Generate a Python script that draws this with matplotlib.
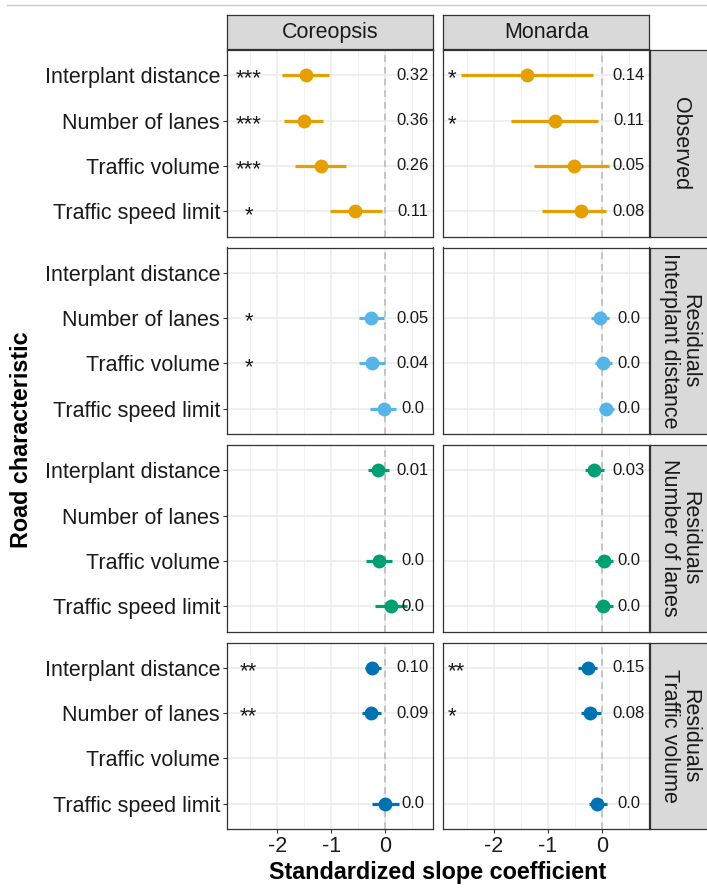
import numpy as np
import matplotlib
matplotlib.use("Agg")
import matplotlib.pyplot as plt
from matplotlib.lines import Line2D

plt.rcParams['font.family'] = ['Liberation Sans', 'DejaVu Sans']

nan = np.nan

# road characteristics, top to bottom
roads = ["Interplant distance", "Number of lanes", "Traffic volume", "Traffic speed limit"]
species = ["Coreopsis", "Monarda"]
facets = ["Observed", "Residuals\nInterplant distance", "Residuals\nNumber of lanes",
          "Residuals\nTraffic volume"]
colors = ["#E69F00", "#56B4E9", "#009E73", "#0072B2"]

# Coreopsis: one list per facet row
cor_est = [[-1.47, -1.51, -1.20, -0.56],
           [nan, -0.26, -0.25, -0.03],
           [-0.14, nan, -0.11, 0.11],
           [-0.24, -0.27, nan, 0.00]]
cor_lo = [[-1.91, -1.88, -1.67, -1.02],
          [nan, -0.48, -0.49, -0.28],
          [-0.33, nan, -0.35, -0.19],
          [-0.37, -0.43, nan, -0.24]]
cor_hi = [[-1.04, -1.15, -0.72, -0.07],
          [nan, -0.03, -0.01, 0.20],
          [0.06, nan, 0.13, 0.40],
          [-0.09, -0.09, nan, 0.25]]
cor_r2 = [["0.32", "0.36", "0.26", "0.11"],
          ["", "0.05", "0.04", "0.0"],
          ["0.01", "", "0.0", "0.0"],
          ["0.10", "0.09", "", "0.0"]]
cor_sig = [["***", "***", "***", "*"],
           ["", "*", "*", ""],
           ["", "", "", ""],
           ["**", "**", "", ""]]

# Monarda
mon_est = [[-1.39, -0.87, -0.51, -0.38],
           [nan, -0.04, 0.03, 0.07],
           [-0.15, nan, 0.04, 0.03],
           [-0.25, -0.21, nan, -0.09]]
mon_lo = [[-2.61, -1.68, -1.25, -1.10],
          [nan, -0.20, -0.12, -0.05],
          [-0.30, nan, -0.13, -0.13],
          [-0.43, -0.38, nan, -0.24]]
mon_hi = [[-0.17, -0.06, 0.13, 0.07],
          [nan, 0.13, 0.19, 0.22],
          [0.04, nan, 0.20, 0.20],
          [-0.09, -0.02, nan, 0.10]]
mon_r2 = [["0.14", "0.11", "0.05", "0.08"],
          ["", "0.0", "0.0", "0.0"],
          ["0.03", "", "0.0", "0.0"],
          ["0.15", "0.08", "", "0.0"]]
mon_sig = [["*", "*", "", ""],
           ["", "", "", ""],
           ["", "", "", ""],
           ["**", "*", "", ""]]

data = [(cor_est, cor_lo, cor_hi, cor_r2, cor_sig),
        (mon_est, mon_lo, mon_hi, mon_r2, mon_sig)]

W, H = 707, 893
fig = plt.figure(figsize=(W / 100, H / 100), dpi=100)


def px_axes(x0, y0, w, h):
    return fig.add_axes([x0 / W, 1 - (y0 + h) / H, w / W, h / H])


def strip(ax):
    ax.set_facecolor("#D9D9D9")
    ax.set_xticks([])
    ax.set_yticks([])
    for s in ax.spines.values():
        s.set_color("#333333")
        s.set_linewidth(0.9)


txt = "#1A1A1A"
col_left = [227, 443.3]
col_w = 206
row_top = [50 + i * 197.5 for i in range(4)]
row_h = 186.5
ypos = np.arange(len(roads))

for r in range(4):
    for c in range(2):
        est, lo, hi, r2, sig = data[c]
        ax = px_axes(col_left[c], row_top[r], col_w, row_h)
        ax.set_xlim(-2.93, 0.88)
        ax.set_ylim(3.55, -0.55)
        ax.set_xticks([-2, -1, 0])
        ax.set_xticks([-2.5, -1.5, -0.5, 0.5], minor=True)
        ax.set_yticks(ypos)
        ax.grid(True, which="major", color="#EBEBEB", lw=1.1)
        ax.grid(True, which="minor", axis="x", color="#F2F2F2", lw=0.7)
        ax.tick_params(which="minor", length=0)
        ax.set_axisbelow(True)
        ax.axvline(0, color="#BDBDBD", lw=1.2, ls=(0, (4, 3)), zorder=1)
        for s in ax.spines.values():
            s.set_color("#333333")
            s.set_linewidth(0.9)
        ax.tick_params(which="major", color="#333333", length=3, width=0.8,
                       labelsize=15.5, labelcolor=txt, pad=2)
        if c == 0:
            ax.set_yticklabels(roads)
        else:
            ax.tick_params(axis="y", length=0, labelleft=False)
        if r == 3:
            ax.set_xticklabels(["-2", "-1", "0"])
        else:
            ax.tick_params(axis="x", length=0, labelbottom=False)

        e = np.array(est[r])
        ax.hlines(ypos, lo[r], hi[r], color=colors[r], lw=2.3, zorder=3)
        ax.plot(e, ypos, "o", color=colors[r], ms=10, mec="none", zorder=4)
        for i in range(len(roads)):
            if r2[r][i]:
                ax.text(0.5, ypos[i], r2[r][i], ha="center", va="center",
                        fontsize=12, color=txt, zorder=5)
            if sig[r][i]:
                if c == 0:
                    ax.text(-2.53, ypos[i] + 0.09, sig[r][i], ha="center",
                            va="center", fontsize=16, color=txt)
                else:
                    ax.text(-2.85, ypos[i] + 0.09, sig[r][i], ha="left",
                            va="center", fontsize=16, color=txt)

        # top strips
        if r == 0:
            sa = px_axes(col_left[c], 15, col_w, 34.3)
            strip(sa)
            sa.text(0.5, 0.5, species[c], transform=sa.transAxes, ha="center",
                    va="center", fontsize=15.5, color=txt)

    # right strips
    sa = px_axes(650, row_top[r], 60, row_h)
    strip(sa)
    sa.text(0.5, 0.5, facets[r], transform=sa.transAxes, ha="center", va="center",
            rotation=-90, fontsize=15.5, color=txt, linespacing=0.95)

fig.text(438 / W, 1 - 873 / H, "Standardized slope coefficient", ha="center",
         va="center", fontsize=16.8, fontweight="bold", color="black")
fig.text(22 / W, 1 - 440 / H, "Road characteristic", ha="center", va="center",
         rotation=90, fontsize=16.8, fontweight="bold", color="black")

# thin rule at the very top of the screenshot
fig.add_artist(Line2D([7 / W, 1], [1 - 5 / H, 1 - 5 / H], color="#C8C8C8", lw=1))

fig.savefig("out.png", dpi=100)
